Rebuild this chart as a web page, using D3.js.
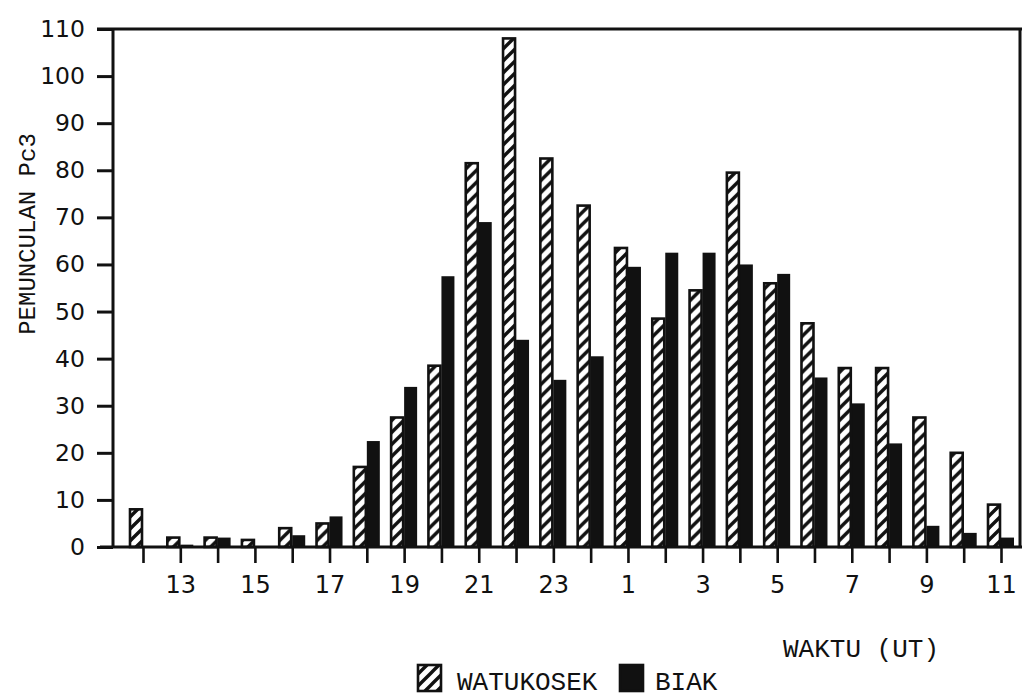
<!DOCTYPE html>
<html>
<head>
<meta charset="utf-8">
<script src="https://cdn.jsdelivr.net/npm/d3@7"></script>
<style>
  html, body { margin: 0; padding: 0; background: #ffffff; }
  svg { display: block; }
</style>
</head>
<body>
<svg id="chart" width="1022" height="697"></svg>
<script>
// Hourly Pc3 occurrence counts, starting at 12 UT and wrapping through midnight to 11 UT
const hours = [12, 13, 14, 15, 16, 17, 18, 19, 20, 21, 22, 23, 0, 1, 2, 3, 4, 5, 6, 7, 8, 9, 10, 11];
const watukosek = [8, 2, 2, 1.5, 4, 5, 17, 27.5, 38.5, 81.5, 108, 82.5, 72.5, 63.5, 48.5, 54.5, 79.5, 56, 47.5, 38, 38, 27.5, 20, 9];
const biak = [0, 0.5, 2, 0, 2.5, 6.5, 22.5, 34, 57.5, 69, 44, 35.5, 40.5, 59.5, 62.5, 62.5, 60, 58, 36, 30.5, 22, 4.5, 3, 2];
const yTicks = [0, 10, 20, 30, 40, 50, 60, 70, 80, 90, 100, 110];
const seriesNames = ["WATUKOSEK", "BIAK"];

const svg = d3.select("#chart");
const ink = "#111";
const mono = "'Liberation Mono', 'Courier New', monospace";
const sans = "'DejaVu Sans', 'Liberation Sans', sans-serif";

// Scales
const y = d3.scaleLinear().domain([0, 110]).range([547, 29]);
const x = d3.scalePoint().domain(hours.map(String)).range([143, 1001]);
const inner = d3.scaleBand().domain(seriesNames).range([-14, 14]).padding(0);

const left = 113, right = 1020;

// Diagonal hatch
const defs = svg.append("defs");
const pat = defs.append("pattern")
  .attr("id", "hatch")
  .attr("patternUnits", "userSpaceOnUse")
  .attr("width", 12).attr("height", 12);
pat.append("rect").attr("width", 12).attr("height", 12).attr("fill", "#fff");
pat.append("path")
  .attr("d", "M-3,3 L3,-3 M0,12 L12,0 M9,15 L15,9")
  .attr("stroke", ink).attr("stroke-width", 3.4).attr("fill", "none");

// Bars
const rows = hours.map((h, i) => ({ hour: String(h), values: [watukosek[i], biak[i]] }));

const groups = svg.append("g").selectAll("g")
  .data(rows).join("g")
  .attr("transform", d => `translate(${x(d.hour)},0)`);

groups.append("rect")
  .attr("x", inner("BIAK"))
  .attr("width", inner.bandwidth() - 1)
  .attr("y", d => y(d.values[1]))
  .attr("height", d => y(0) - y(d.values[1]))
  .attr("fill", ink);

groups.append("rect")
  .attr("x", inner("WATUKOSEK") + 1)
  .attr("width", inner.bandwidth() - 2)
  .attr("y", d => y(d.values[0]))
  .attr("height", d => y(0) - y(d.values[0]))
  .attr("fill", "url(#hatch)")
  .attr("stroke", ink)
  .attr("stroke-width", 2.6);

// Y axis
const yAxis = svg.append("g")
  .attr("transform", `translate(${left},0)`)
  .call(d3.axisLeft(y).tickValues(yTicks).tickSize(16).tickPadding(12));
yAxis.select(".domain").remove();
yAxis.selectAll(".tick line").attr("stroke", ink).attr("stroke-width", 3);
yAxis.selectAll(".tick text")
  .attr("fill", ink)
  .style("font-family", sans)
  .style("font-size", "23.5px");

// X axis
const xAxis = svg.append("g")
  .attr("transform", `translate(0,${y(0)})`)
  .call(d3.axisBottom(x)
    .tickSize(16)
    .tickPadding(13)
    .tickFormat(d => (+d % 2 === 1 ? d : "")));
xAxis.select(".domain").remove();
xAxis.selectAll(".tick line").attr("stroke", ink).attr("stroke-width", 2.6);
xAxis.selectAll(".tick text")
  .attr("fill", ink)
  .style("font-family", sans)
  .style("font-size", "24px");

// Frame
const frame = svg.append("g").attr("stroke", ink).attr("stroke-width", 3).attr("fill", "none");
frame.append("line").attr("x1", 97).attr("x2", right + 2).attr("y1", y(110)).attr("y2", y(110));
frame.append("line").attr("x1", 100).attr("x2", right + 2).attr("y1", y(0)).attr("y2", y(0));
frame.append("line").attr("x1", left).attr("x2", left).attr("y1", y(110)).attr("y2", y(0));
frame.append("line").attr("x1", right).attr("x2", right).attr("y1", y(110)).attr("y2", y(0));

// Axis titles
svg.append("text")
  .attr("transform", `translate(35,${(y(0) + y(110)) / 2 - 54}) rotate(-90)`)
  .attr("text-anchor", "middle")
  .attr("fill", ink)
  .style("font-family", mono)
  .style("font-size", "24px")
  .text("PEMUNCULAN Pc3");

svg.append("text")
  .attr("x", 783).attr("y", 657)
  .attr("fill", ink)
  .style("font-family", mono)
  .style("font-size", "26px")
  .text("WAKTU (UT)");

// Legend
const legend = svg.append("g");
const legendItems = [
  { name: seriesNames[0], fill: "url(#hatch)", sx: 418, tx: 457 },
  { name: seriesNames[1], fill: ink, sx: 620, tx: 655 }
];
legend.selectAll("rect").data(legendItems).join("rect")
  .attr("x", d => d.sx).attr("y", 665)
  .attr("width", 23).attr("height", 26)
  .attr("fill", d => d.fill)
  .attr("stroke", ink).attr("stroke-width", 2.6);
legend.selectAll("text").data(legendItems).join("text")
  .attr("x", d => d.tx).attr("y", 690)
  .attr("fill", ink)
  .style("font-family", mono)
  .style("font-size", "26px")
  .text(d => d.name);
</script>
</body>
</html>
